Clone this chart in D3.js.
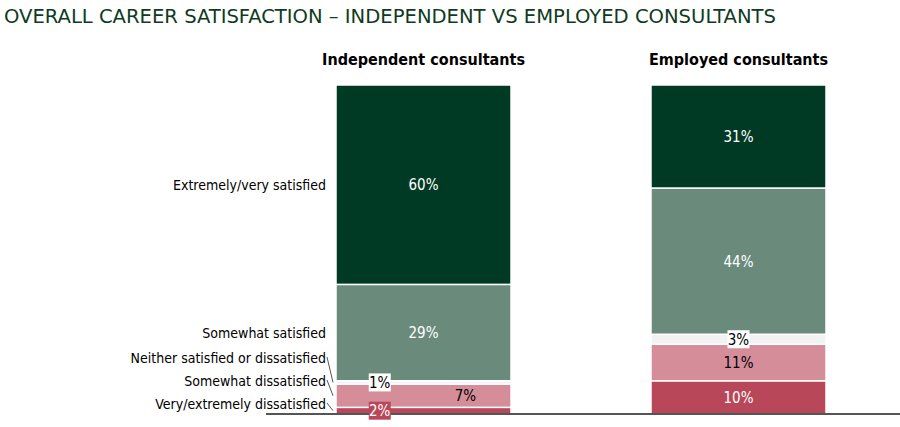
<!DOCTYPE html>
<html>
<head>
<meta charset="utf-8">
<script src="https://cdn.jsdelivr.net/npm/d3@7"></script>
<style>
  body { margin: 0; background: #fff; }
  svg { display: block; }
</style>
</head>
<body>
<div id="chart"></div>
<script>
const FONT = "'DejaVu Sans Condensed', 'DejaVu Sans', sans-serif";
const TITLE = "OVERALL CAREER SATISFACTION \u2013 INDEPENDENT VS EMPLOYED CONSULTANTS";

// data
const groups = ["Independent consultants", "Employed consultants"];
const categories = [
  "Very/extremely dissatisfied",
  "Somewhat dissatisfied",
  "Neither satisfied or dissatisfied",
  "Somewhat satisfied",
  "Extremely/very satisfied"
];
const independentValues = [2, 7, 1, 29, 60];
const employedValues = [10, 11, 3, 44, 31];

const COLORS = ["#b8475a", "#d68d9a", "#f2f2f2", "#6a8b7c", "#003a24"];
const TEXT_COLORS = ["#fff", "#000", "#000", "#fff", "#fff"];

const width = 900, height = 427;
const svg = d3.select("#chart").append("svg")
  .attr("width", width).attr("height", height)
  .attr("font-family", FONT);

// title
svg.append("text")
  .attr("x", 4).attr("y", 23)
  .attr("font-size", 20)
  .attr("fill", "#0f3b22")
  .attr("textLength", 772)
  .attr("lengthAdjust", "spacingAndGlyphs")
  .text(TITLE);

// scales
const x = d3.scaleBand().domain(groups).range([336, 826]).paddingInner(0.4444).paddingOuter(0);
const y = d3.scaleLinear().domain([0, 99]).range([414, 85]);

const series = groups.map((g, i) => {
  const vals = i === 0 ? independentValues : employedValues;
  let acc = 0;
  return vals.map((v, k) => {
    const seg = { group: g, k: k, value: v, y0: acc, y1: acc + v };
    acc += v;
    return seg;
  });
});

// group headers
svg.append("g").selectAll("text")
  .data(groups).enter().append("text")
  .attr("x", d => x(d) + x.bandwidth() / 2)
  .attr("y", 65)
  .attr("text-anchor", "middle")
  .attr("font-size", 16)
  .attr("font-weight", "bold")
  .attr("fill", "#000")
  .text(d => d);

// bars
const barLayer = svg.append("g");
series.forEach(segs => {
  barLayer.selectAll(null)
    .data(segs).enter().append("rect")
    .attr("x", d => x(d.group))
    .attr("width", x.bandwidth())
    .attr("y", d => y(d.y1))
    .attr("height", d => y(d.y0) - y(d.y1))
    .attr("fill", d => COLORS[d.k])
    .attr("stroke", "#fff")
    .attr("stroke-width", 1.5);
});

// baseline
svg.append("line")
  .attr("x1", 266).attr("x2", 900)
  .attr("y1", y(0)).attr("y2", y(0))
  .attr("stroke", "#555").attr("stroke-width", 2);

// value labels
const labelLayer = svg.append("g");
series.forEach((segs, gi) => {
  segs.forEach(d => {
    const small = d.value <= 3;
    let cx = x(d.group) + x.bandwidth() / 2;
    let cy = y((d.y0 + d.y1) / 2);
    if (gi === 0 && d.k === 1) cx = x(d.group) + x.bandwidth() * 0.74;
    if (gi === 0 && small) cx = x(d.group) + x.bandwidth() * 0.25;
    const txt = d.value + "%";
    if (small) {
      const bw = txt.length * 8 + 6;
      labelLayer.append("rect")
        .attr("x", cx - bw / 2).attr("y", cy - 9)
        .attr("width", bw).attr("height", 18)
        .attr("fill", d.k === 0 ? COLORS[0] : "#fff");
    }
    labelLayer.append("text")
      .attr("x", cx).attr("y", cy)
      .attr("dy", "0.36em")
      .attr("text-anchor", "middle")
      .attr("font-size", 15)
      .attr("fill", TEXT_COLORS[d.k])
      .text(txt);
  });
});

// category labels on the left
const first = series[0];
const catLayer = svg.append("g");
const labelX = 326;
const catY = first.map((d, k) => k >= 3 ? y((d.y0 + d.y1) / 2) : y(0) - 10 - k * 23);
catLayer.selectAll("text")
  .data(categories).enter().append("text")
  .attr("x", labelX)
  .attr("y", (d, k) => catY[k])
  .attr("dy", "0.36em")
  .attr("text-anchor", "end")
  .attr("font-size", 14)
  .attr("fill", "#000")
  .text(d => d);

// leader lines for the small segments
catLayer.selectAll("line")
  .data(first.filter(d => d.k < 3)).enter().append("line")
  .attr("x1", labelX + 1)
  .attr("y1", d => catY[d.k] - 1)
  .attr("x2", x(first[0].group) - 3)
  .attr("y2", d => y((d.y0 + d.y1) / 2))
  .attr("stroke", "#555")
  .attr("stroke-width", 1);
</script>
</body>
</html>
